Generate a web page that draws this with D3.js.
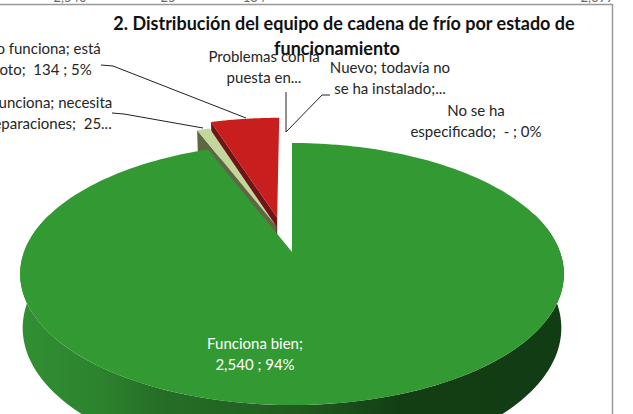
<!DOCTYPE html>
<html><head><meta charset="utf-8">
<script src="https://cdn.jsdelivr.net/npm/d3@7"></script>
<style>html,body{margin:0;background:#fff}svg{display:block}text{font-family:Lato,sans-serif;white-space:pre}</style>
</head><body><svg id="c" width="633" height="414"></svg>
<script>
const categories = ["Funciona bien","No funciona; necesita reparaciones","No funciona; está roto","Problemas con la puesta en...","Nuevo; todavía no se ha instalado","No se ha especificado"];
const values = [2540,25,134,0,0,0];
const sliceColors = ["#339933","#c3d69b","#c81e1e"];
const sideColors = ["#2a7a2c","#5e6644","#6e1616"];
const title = ["2. Distribución del equipo de cadena de frío por estado de","funcionamiento"];

const svg = d3.select("#c");
const pie = d3.pie().sort(null).value(d=>d);
const arcs = pie(values);
const explodeOffsets = [[0,0],[-.06,.207],[-.058,.281]];
const TOP = {cx:292,cy:252,A:127.3,B:268,k:.168};
const BOT = {cx:292,cy:293.6,A:146.7,B:266,k:.168};
const WALL = {cx:292,cy:304.8,A:134,B:265.5,k:.168};
const proj=(m,u,v)=>{const d=1+m.k*v;return [m.cx+m.B*u/d,m.cy-m.A*v/d];};
const rim=(m,a,b,off=[0,0],n=120)=>d3.range(n+1).map(i=>{const t=a+(b-a)*i/n;return proj(m,off[0]+Math.sin(t),off[1]+Math.cos(t));});
const line=d3.line();

const defs=svg.append("defs");
const g=defs.append("linearGradient").attr("id","wall").attr("gradientUnits","userSpaceOnUse").attr("x1",20).attr("x2",565).attr("y1",0).attr("y2",0);
[[0,"#319033"],[.15,"#2c822d"],[.25,"#266f27"],[.5,"#205c20"],[.7,"#133e14"],[1,"#123c13"]].forEach(s=>g.append("stop").attr("offset",s[0]).attr("stop-color",s[1]));

// remnants of the table row cut off above the chart
const total=d3.sum(values), fmt=d3.format(",");
[[70,values[0]],[168,values[1]],[254,values[2]],[597,total]].forEach(d=>
  svg.append("text").attr("x",d[0]).attr("y",2).attr("text-anchor","middle").attr("font-size",13).attr("fill","#6b6b6b").text(fmt(d[1])));

// frame
svg.append("path").attr("d","M0,4.5H612.5V414").attr("fill","none").attr("stroke","#999").attr("stroke-width",1.5);

// exploded small slices, drawn behind the main slice
[2,1].forEach(i=>{
  const a=arcs[i],off=explodeOffsets[i];
  const t0=rim(TOP,a.startAngle,a.endAngle,off),b0=rim(BOT,a.startAngle,a.endAngle,off);
  const apexT=proj(TOP,off[0],off[1]),apexB=proj(BOT,off[0],off[1]);
  svg.append("path").attr("fill",sideColors[i]).attr("d",line([t0[0],apexT,apexB,b0[0]])+"Z");
  svg.append("path").attr("fill",sliceColors[i]).attr("d",line([apexT,...t0])+"Z");
});

// main slice wall and surface
const m=arcs[0];
const wt=rim(TOP,Math.PI*.4,Math.PI*1.6),wb=rim(WALL,Math.PI*.4,Math.PI*1.6);
svg.append("path").attr("fill","url(#wall)").attr("d",line([...wt,...wb.reverse()])+"Z");
svg.append("path").attr("fill",sliceColors[0]).attr("d",line([proj(TOP,0,0),...rim(TOP,m.startAngle,m.endAngle,[0,0],240)])+"Z");

// leader lines
const leaders=[[[101,65],[113,66],[246,118]],[[112,113],[124,114],[203,128]],[[286,92],[286,132],[322,95],[330,95]]];
leaders.forEach(l=>svg.append("path").attr("d",line(l)).attr("fill","none").attr("stroke","#222").attr("stroke-width",1));

// title
const titlePos=[[344,30],[337,55]];
title.forEach((s,i)=>svg.append("text").attr("text-anchor","middle").attr("font-weight","700").attr("font-size",18).attr("fill","#111").attr("x",titlePos[i][0]).attr("y",titlePos[i][1]).text(s));

// labels
const labels=[
 {x:[43,43],y:54,t:["No funciona; está","roto;  134 ; 5%"]},
 {x:[41,50],y:108,t:["No funciona; necesita","reparaciones;  25..."]},
 {x:[264,264],y:62,t:["Problemas con la","puesta en..."]},
 {x:[390,390],y:73,t:["Nuevo; todavía no","se ha instalado;..."]},
 {x:[476,476],y:116,t:["No se ha","especificado;  - ; 0%"]},
 {x:[255,255],y:349,t:["Funciona bien;","2,540 ; 94%"],c:"#fff"}];
labels.forEach(l=>{const e=svg.append("text").attr("text-anchor","middle").attr("font-size",15).attr("fill",l.c||"#262626");
 l.t.forEach((s,i)=>e.append("tspan").attr("x",l.x[i]).attr("y",l.y+i*20.5).text(s));});
</script></body></html>
